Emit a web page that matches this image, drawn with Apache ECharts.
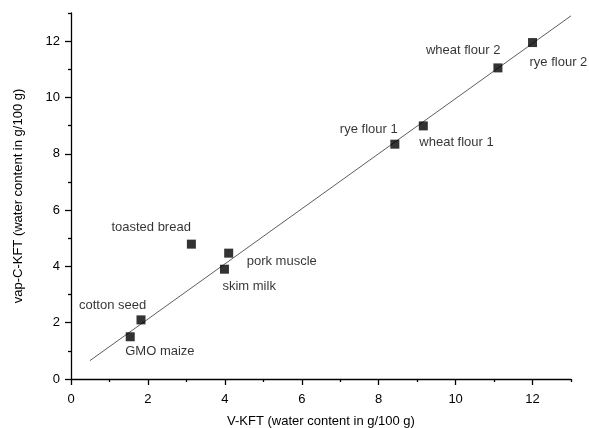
<!DOCTYPE html>
<html>
<head>
<meta charset="utf-8">
<script src="https://cdn.jsdelivr.net/npm/echarts@6/dist/echarts.min.js"></script>
<style>
  html, body { margin: 0; padding: 0; background: #fff; }
  #chart { width: 589px; height: 428px; }
</style>
</head>
<body>
<div id="chart"></div>
<script>
// samples: V-KFT vs vap-C-KFT (g/100 g)
const sampleNames = ['GMO maize', 'cotton seed', 'toasted bread', 'pork muscle', 'skim milk',
  'rye flour 1', 'wheat flour 1', 'wheat flour 2', 'rye flour 2'];
const vKft = [1.54, 1.82, 3.13, 4.10, 3.99, 8.42, 9.16, 11.10, 12.00];
const vapCKft = [1.50, 2.10, 4.79, 4.47, 3.90, 8.34, 8.99, 11.05, 11.95];

// regression line end points
const fitX = [0.49, 13.0];
const fitY = [0.65, 12.90];

const majorTicks = [0, 2, 4, 6, 8, 10, 12];
const minorTicks = [1, 3, 5, 7, 9, 11, 13];

// label offsets (px from marker centre, text left-aligned)
const labelOffset = {
  'GMO maize': [-5, 15],
  'cotton seed': [-62, -14],
  'toasted bread': [-80, -17],
  'pork muscle': [18, 8],
  'skim milk': [-2, 17],
  'rye flour 1': [-55, -15],
  'wheat flour 1': [-4, 17],
  'wheat flour 2': [-72, -17],
  'rye flour 2': [-3, 20]
};

const FONT = 'Arial, "Liberation Sans", sans-serif';
const chart = echarts.init(document.getElementById('chart'));

const grid = { left: 71, right: 18, top: 13, bottom: 49, outerBoundsMode: 'none', containLabel: false };

function majorAxis(extra) {
  return Object.assign({
    type: 'value', min: 0, max: 13,
    axisLine: { show: true, lineStyle: { color: '#000', width: 1.3 } },
    axisTick: { show: true, customValues: majorTicks, length: 6, lineStyle: { color: '#000', width: 1.3 } },
    axisLabel: { customValues: majorTicks, color: '#000', fontSize: 13, fontFamily: FONT, margin: 11 },
    splitLine: { show: false },
    nameLocation: 'middle',
    nameTextStyle: { color: '#000', fontSize: 13, fontFamily: FONT }
  }, extra);
}
function minorAxis(pos) {
  return {
    type: 'value', min: 0, max: 13, position: pos,
    axisLine: { show: false },
    axisTick: { show: true, customValues: minorTicks, length: 3, lineStyle: { color: '#000', width: 1.3 } },
    axisLabel: { show: false },
    splitLine: { show: false }
  };
}

const xMain = majorAxis({ position: 'bottom', name: 'V-KFT (water content in g/100 g)', nameGap: 36 });
xMain.axisLabel.margin = 14;

chart.setOption({
  animation: false,
  backgroundColor: '#fff',
  grid: grid,
  xAxis: [xMain, minorAxis('bottom')],
  yAxis: [
    majorAxis({ position: 'left', name: 'vap-C-KFT (water content in g/100 g)', nameGap: 46 }),
    minorAxis('left')
  ],
  series: [
    {
      type: 'line',
      data: fitX.map((x, i) => [x, fitY[i]]),
      symbol: 'none',
      lineStyle: { color: '#333', width: 0.8 },
      z: 1
    },
    {
      type: 'scatter',
      symbol: 'rect',
      symbolSize: 9,
      itemStyle: { color: '#000' },
      z: 2,
      data: sampleNames.map((n, i) => ({
        name: n,
        value: [vKft[i], vapCKft[i]],
        label: {
          show: true,
          formatter: n,
          position: 'inside',
          align: 'left',
          verticalAlign: 'middle',
          offset: labelOffset[n],
          color: '#000',
          fontSize: 13,
          fontFamily: FONT
        }
      }))
    }
  ]
});
</script>
</body>
</html>
